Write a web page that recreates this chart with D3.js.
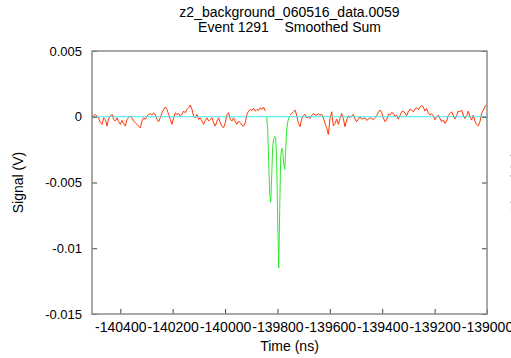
<!DOCTYPE html>
<html>
<head>
<meta charset="utf-8">
<script src="https://cdn.jsdelivr.net/npm/d3@7"></script>
<style>
  body { margin: 0; background: #fff; }
  svg { display: block; font-family: "Liberation Sans", Arial, sans-serif; }
</style>
</head>
<body>
<svg width="511" height="358"></svg>
<script>
// axis ranges and ticks
const timeDomain = [-140508, -139000];
const signalDomain = [-0.015, 0.005];
const xTickValues = [-140400, -140200, -140000, -139800, -139600, -139400, -139200, -139000];
const yTickValues = [0.005, 0, -0.005, -0.01, -0.015];
const yTickLabels = ["0.005", "0", "-0.005", "-0.01", "-0.015"];

const titleLines = ["z2_background_060516_data.0059", "Event 1291    Smoothed Sum"];

// raw trace before the pulse (mV)
const redLeftStart = -140508;
const redStep = 6.36;
const redLeftMv = [
  0.13, 0.08, 0.18, 0.03, -0.08, -0.46, -0.58, -0.08, -0.20, -0.71,
  -0.13, 0.05, 0.18, -0.20, -0.33, -0.08, -0.38, -0.58, -0.28, -0.53,
  -0.71, -0.20, -0.08, 0.05, -0.08, -0.33, -0.46, -0.58, -0.71, -0.84,
  -0.33, -0.08, -0.20, 0.05, 0.18, 0.23, 0.13, 0.28, 0.18, -0.20,
  -0.38, -0.08, 0.30, 0.56, 0.74, 0.56, 0.18, -0.20, -0.58, -0.08,
  0.30, 0.18, 0.23, 0.05, 0.18, 0.43, 0.30, 0.56, 0.69, 0.89,
  0.56, 0.05, -0.08, 0.18, -0.20, -0.08, -0.33, -0.58, -0.28, -0.08,
  -0.33, -0.20, -0.08, -0.46, -0.71, -0.33, -0.08, -0.46, -0.71, -0.84,
  -0.46, 0.18, 0.30, -0.20, -0.33, -0.08, -0.38, -0.58, -0.33, -0.46,
  -0.64, -0.71, -0.46, 0.18, 0.43, 0.56, 0.48, 0.64, 0.43, 0.56,
  0.48, 0.69, 0.56, 0.74, 0.43
];

// pulse (mV)
const greenStart = -139841;
const greenStep = 3.82;
const greenMv = [
  0, -1.0, -3.5, -5.8, -6.5, -4.5, -2.2, -1.7, -1.5, -1.6,
  -3.5, -8.0, -11.5, -7.0, -3.0, -2.4, -2.6, -3.6, -4.0, -2.5,
  -1.0, -0.4, -0.1, 0
];

// raw trace after the pulse (mV)
const redRightStart = -139752;
const redRightMv = [
  0.13, 0.25, 0.38, 0.51, 0.13, -0.51, -0.76, -0.18, 0.08, 0.18,
  -0.08, -0.03, -0.13, 0.08, 0.25, 0.13, 0.13, 0.23, 0.13, 0.18,
  -0.08, -0.51, -0.84, -1.35, -0.13, 0.38, -0.69, -0.51, -0.18, -0.58,
  -0.13, 0.25, -0.13, -0.76, -0.25, 0.08, -0.08, 0.08, 0.18, -0.18,
  -0.38, -0.18, 0.00, -0.18, -0.13, -0.08, -0.28, -0.18, -0.08, -0.13,
  -0.23, -0.08, 0.08, 0.33, 0.51, 0.33, -0.08, -0.38, -0.25, 0.18,
  0.13, 0.33, 0.25, 0.03, 0.13, -0.18, 0.08, 0.38, 0.43, 0.28,
  0.08, 0.38, 0.58, 0.51, 0.38, 0.58, 0.69, 0.53, 0.74, 0.84,
  0.74, 0.43, 0.64, 0.28, 0.13, 0.23, 0.08, -0.23, -0.03, 0.13,
  -0.13, -0.38, -0.25, -0.51, -0.33, 0.08, 0.25, 0.38, 0.13, -0.18,
  0.08, 0.43, 0.38, 0.51, 0.13, -0.13, 0.08, 0.43, 0.00, -0.25,
  0.13, -0.33, -0.58, -0.69, -0.38, 0.25, 0.51, 0.76, 0.94
];

const svg = d3.select("svg");
const margin = { left: 92, right: 24, top: 51, bottom: 44 };
const W = 511, H = 358;
const x = d3.scaleLinear().domain(timeDomain).range([margin.left, W - margin.right]);
const y = d3.scaleLinear().domain(signalDomain).range([H - margin.bottom, margin.top]);

const toPoints = (start, step, mv) => mv.map((v, i) => [start + i * step, v * 1e-3]);
const line = d3.line().x(d => x(d[0])).y(d => y(d[1]));

const plot = svg.append("g");

plot.append("path")
  .datum(toPoints(redLeftStart, redStep, redLeftMv))
  .attr("d", line).attr("fill", "none").attr("stroke", "#ff3300").attr("stroke-width", 1);
plot.append("path")
  .datum(toPoints(redRightStart, redStep, redRightMv))
  .attr("d", line).attr("fill", "none").attr("stroke", "#ff3300").attr("stroke-width", 1);

// zero baseline
plot.append("path")
  .datum([[timeDomain[0], 0], [timeDomain[1], 0]])
  .attr("d", line).attr("fill", "none").attr("stroke", "#40e8f0").attr("stroke-width", 1);

plot.append("path")
  .datum(toPoints(greenStart, greenStep, greenMv))
  .attr("d", line).attr("fill", "none").attr("stroke", "#2ee82e").attr("stroke-width", 1);

// axes, ticks pointing inward
const styleAxis = (g, size) => {
  g.select(".domain").remove();
  g.selectAll(".tick line").attr("stroke", "#444");
  g.selectAll("text").attr("fill", "#000").attr("font-size", size)
    .attr("font-family", "'Liberation Sans', Arial, sans-serif");
};

svg.append("g")
  .attr("transform", `translate(0,${H - margin.bottom})`)
  .call(d3.axisBottom(x).tickValues(xTickValues).tickSize(-5).tickPadding(8)
    .tickFormat(d => String(d)))
  .call(g => styleAxis(g, 14));

svg.append("g")
  .attr("transform", `translate(${margin.left},0)`)
  .call(d3.axisLeft(y).tickValues(yTickValues).tickSize(-5).tickPadding(10)
    .tickFormat((d, i) => yTickLabels[i]))
  .call(g => styleAxis(g, 13));

svg.append("g")
  .attr("transform", `translate(${W - margin.right},0)`)
  .call(d3.axisRight(y).tickValues(yTickValues).tickSize(-5).tickFormat(""))
  .call(g => styleAxis(g, 13));

// frame
svg.append("rect")
  .attr("x", margin.left).attr("y", margin.top)
  .attr("width", W - margin.left - margin.right)
  .attr("height", H - margin.top - margin.bottom)
  .attr("fill", "none").attr("stroke", "#8c8c8c").attr("stroke-width", 1.5);

// titles
svg.append("g").selectAll("text")
  .data(titleLines)
  .join("text")
  .attr("x", (margin.left + W - margin.right) / 2)
  .attr("y", (d, i) => 17 + i * 15)
  .attr("text-anchor", "middle")
  .attr("font-size", 14)
  .style("white-space", "pre")
  .text(d => d);

svg.append("text")
  .attr("x", (margin.left + W - margin.right) / 2)
  .attr("y", 351)
  .attr("text-anchor", "middle")
  .attr("font-size", 14)
  .text("Time (ns)");

svg.append("text")
  .attr("transform", `translate(23,${(margin.top + H - margin.bottom) / 2}) rotate(-90)`)
  .attr("text-anchor", "middle")
  .attr("font-size", 14)
  .text("Signal (V)");

// mirrored label, mostly cut off at the right edge
svg.append("text")
  .attr("transform", `translate(521,${(margin.top + H - margin.bottom) / 2}) rotate(-90)`)
  .attr("text-anchor", "middle")
  .attr("font-size", 14)
  .attr("fill", "#aaa")
  .text("Signal (V)");
</script>
</body>
</html>
